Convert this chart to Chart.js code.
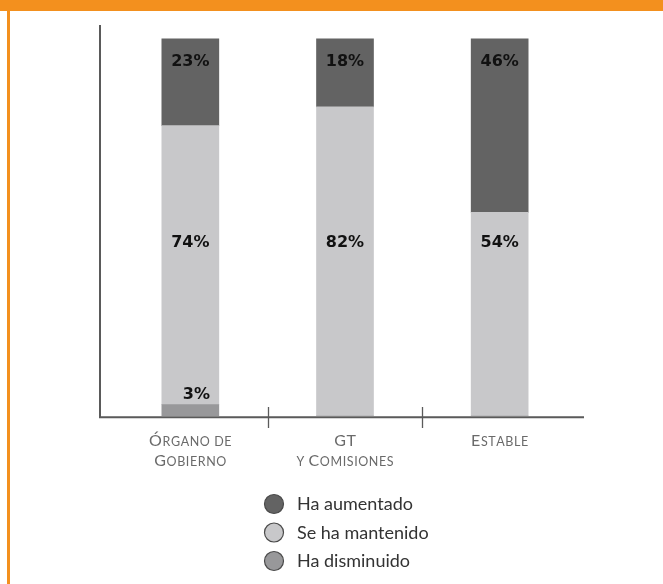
<!DOCTYPE html>
<html>
<head>
<meta charset="utf-8">
<script src="https://cdn.jsdelivr.net/npm/chart.js@4/dist/chart.umd.min.js"></script>
<style>
html,body{margin:0;padding:0;background:#fff;overflow:hidden;}
canvas{display:block;}
</style>
</head>
<body>
<canvas id="c" width="663" height="584"></canvas>
<script>
// ---- data ----
const categories = [["Órgano de", "Gobierno"], ["GT", "y Comisiones"], ["Estable"]];
const seriesNames = ["Ha aumentado", "Se ha mantenido", "Ha disminuido"];
const aumentado = [23, 18, 46];
const mantenido = [74, 82, 54];
const disminuido = [3, 0, 0];
const yMax = 103.7;
const mantenidoLabelValue = 46;

const colAum = "#636363", colMan = "#c8c8ca", colDis = "#98989a";
const orange = "#f3901e";

function drawSmallCaps(ctx, text, cx, baseline, big, small, family, color) {
  const runs = [];
  for (const ch of text) {
    const isUpper = ch !== ch.toLowerCase() && ch === ch.toUpperCase();
    runs.push({ t: ch.toUpperCase(), s: isUpper ? big : small });
  }
  let w = 0;
  const ls = 0.6;
  for (const r of runs) { ctx.font = r.s + "px " + family; r.w = ctx.measureText(r.t).width + ls; w += r.w; }
  w -= ls;
  let x = cx - w / 2;
  ctx.fillStyle = color;
  ctx.textAlign = "left";
  ctx.textBaseline = "alphabetic";
  for (const r of runs) { ctx.font = r.s + "px " + family; ctx.fillText(r.t, x, baseline); x += r.w; }
}

const decor = {
  id: "decor",
  beforeDraw(chart) {
    const ctx = chart.ctx;
    ctx.save();
    ctx.fillStyle = "#fff";
    ctx.fillRect(0, 0, chart.width, chart.height);
    ctx.fillStyle = orange;
    ctx.fillRect(0, 0, chart.width, 11);
    ctx.fillRect(7, 0, 3, chart.height);
    ctx.restore();
  },
  afterDatasetsDraw(chart) {
    const ctx = chart.ctx;
    const xs = chart.scales.x, ys = chart.scales.y;
    const base = ys.getPixelForValue(0);
    ctx.save();
    // axes
    ctx.strokeStyle = "#5a5a5a";
    ctx.lineWidth = 2;
    ctx.beginPath();
    ctx.moveTo(100, 25);
    ctx.lineTo(100, base + 2);
    ctx.moveTo(99, base + 1.3);
    ctx.lineTo(584, base + 1.3);
    ctx.stroke();
    // separators
    ctx.lineWidth = 1.3;
    ctx.beginPath();
    for (let i = 0; i < categories.length - 1; i++) {
      const x = Math.round((xs.getPixelForValue(i) + xs.getPixelForValue(i + 1)) / 2) + 0.5;
      ctx.moveTo(x, base - 9);
      ctx.lineTo(x, base + 12);
    }
    ctx.stroke();
    // category labels
    categories.forEach((lines, i) => {
      const cx = xs.getPixelForValue(i);
      lines.forEach((ln, j) => {
        drawSmallCaps(ctx, ln, cx, base + 30 + j * 20, 16, 12.5, "Lato", "#6a6a6a");
      });
    });
    // value labels
    ctx.font = "bold 16px 'DejaVu Sans'";
    ctx.fillStyle = "#111";
    ctx.textAlign = "center";
    ctx.textBaseline = "middle";
    const metas = chart.data.datasets.map((d, i) => chart.getDatasetMeta(i));
    // datasets: 0 disminuido, 1 mantenido, 2 aumentado
    metas[2].data.forEach((el, i) => {
      ctx.fillText(aumentado[i] + "%", el.x, el.y + 23);
    });
    metas[1].data.forEach((el, i) => {
      ctx.fillText(mantenido[i] + "%", el.x, ys.getPixelForValue(mantenidoLabelValue));
    });
    metas[0].data.forEach((el, i) => {
      if (disminuido[i] > 0) ctx.fillText(disminuido[i] + "%", el.x + 6, el.y - 10);
    });
    // legend
    const legendCols = [colAum, colMan, colDis];
    seriesNames.forEach((name, i) => {
      const cy = 504 + i * 28.5;
      ctx.beginPath();
      ctx.arc(274, cy, 9.5, 0, Math.PI * 2);
      ctx.fillStyle = legendCols[i];
      ctx.fill();
      ctx.lineWidth = 1.2;
      ctx.strokeStyle = "#4a4a4a";
      ctx.stroke();
      ctx.fillStyle = "#333";
      ctx.font = "18px Lato";
      ctx.textAlign = "left";
      ctx.textBaseline = "alphabetic";
      ctx.fillText(name, 297, cy + 6);
    });
    ctx.restore();
  }
};

new Chart(document.getElementById("c"), {
  type: "bar",
  data: {
    labels: categories,
    datasets: [
      { label: seriesNames[2], data: disminuido, backgroundColor: colDis, stack: "s" },
      { label: seriesNames[1], data: mantenido, backgroundColor: colMan, stack: "s" },
      { label: seriesNames[0], data: aumentado, backgroundColor: colAum, stack: "s" }
    ]
  },
  options: {
    responsive: false,
    animation: false,
    devicePixelRatio: 1,
    layout: { padding: { top: 25, bottom: 168, left: 113, right: 86 } },
    datasets: { bar: { barThickness: 57, borderWidth: 0 } },
    scales: {
      x: { display: false, stacked: true },
      y: { display: false, stacked: true, min: 0, max: yMax }
    },
    plugins: { legend: { display: false }, tooltip: { enabled: false } }
  },
  plugins: [decor]
});
</script>
</body>
</html>
